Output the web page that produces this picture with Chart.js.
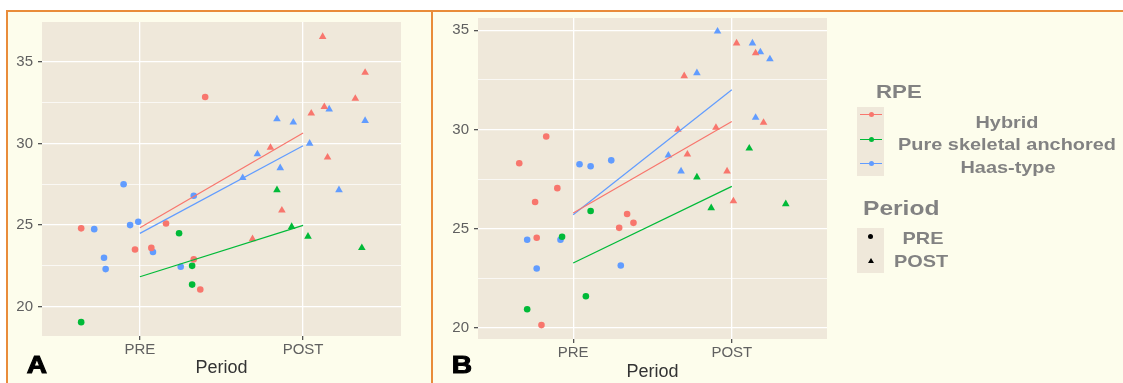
<!DOCTYPE html>
<html>
<head>
<meta charset="utf-8">
<script src="https://cdn.jsdelivr.net/npm/chart.js@4.4.1/dist/chart.umd.min.js"></script>
<style>
  body { margin: 0; background: #fff; }
  #fig { position: relative; width: 1123px; height: 383px; overflow: hidden; background: #fff;
         font-family: "Liberation Sans", Arial, sans-serif; }
  #frame { position: absolute; left: 6px; top: 10px; right: 0; bottom: 0; background: #fdfdec;
           border-left: 2px solid #e98c3a; border-top: 2px solid #e98c3a; }
  #sep { position: absolute; left: 431px; top: 10px; bottom: 0; width: 2px; background: #e98c3a; }
  canvas { position: absolute; top: 0; }
  .txt { position: absolute; white-space: nowrap; transform: translate(-50%, -50%) scaleX(1.17);
         font-weight: bold; color: #828282; }
  .left { transform: translate(0, -50%) scaleX(1.17); transform-origin: left center; }
  .key { position: absolute; left: 857px; width: 27px; background: #efe8da; }
  .kline { position: absolute; left: 860px; width: 22px; height: 1px; }
  .kdot { position: absolute; width: 5px; height: 5px; border-radius: 50%; }
  .tri { position: absolute; width: 0; height: 0; border-left: 3px solid transparent;
         border-right: 3px solid transparent; border-bottom: 5px solid #000; }
  .tag { position: absolute; font-weight: bold; font-size: 24px; color: #000;
         -webkit-text-stroke: 1px #000; transform: translate(-50%, -50%) scaleX(1.17); }
</style>
</head>
<body>
<div id="fig">
  <div id="frame"></div>
  <div id="sep"></div>
  <canvas id="chartA" width="431" height="383" style="left:0"></canvas>
  <canvas id="chartB" width="691" height="383" style="left:432px"></canvas>

  <div class="tag" style="left:37px; top:365px">A</div>
  <div class="tag" style="left:462px; top:365px">B</div>

  <!-- legend -->
  <div class="txt left" style="left:876px; top:92px; font-size:19px">RPE</div>
  <div class="key" style="top:107px; height:69px"></div>
  <div class="kline" style="top:114px; background:#F8766D"></div>
  <div class="kdot" style="left:869px; top:112px; background:#F8766D"></div>
  <div class="kline" style="top:139px; background:#00BA38"></div>
  <div class="kdot" style="left:869px; top:137px; background:#00BA38"></div>
  <div class="kline" style="top:163px; background:#619CFF"></div>
  <div class="kdot" style="left:869px; top:161px; background:#619CFF"></div>
  <div class="txt" style="left:1007px; top:123px; font-size:17px">Hybrid</div>
  <div class="txt" style="left:1007px; top:145px; font-size:17px">Pure skeletal anchored</div>
  <div class="txt" style="left:1008px; top:168px; font-size:17px">Haas-type</div>

  <div class="txt left" style="left:863px; top:208px; font-size:21px">Period</div>
  <div class="key" style="top:228px; height:45px"></div>
  <div class="kdot" style="left:868px; top:234px; background:#000"></div>
  <div class="tri" style="left:868px; top:258px"></div>
  <div class="txt" style="left:923px; top:239px; font-size:17px">PRE</div>
  <div class="txt" style="left:921px; top:262px; font-size:17px">POST</div>
</div>

<script>
const periods = ['PRE', 'POST'];
const rpeGroups = ['Hybrid', 'Pure skeletal anchored', 'Haas-type'];
const rpeColors = ['#F8766D', '#00BA38', '#619CFF'];
const yTicks = [20, 22.5, 25, 27.5, 30, 32.5, 35];

// panel A: [jittered period position, value]
const aHybridPre = [[0.64, 24.8], [0.97, 23.5], [1.07, 23.6], [1.16, 25.1], [1.33, 22.9], [1.37, 21.05], [1.40, 32.85]];
const aPurePre = [[0.64, 19.05], [1.24, 24.5], [1.32, 22.5], [1.32, 21.35]];
const aHaasPre = [[0.72, 24.75], [0.78, 23.0], [0.79, 22.3], [0.90, 27.5], [0.94, 25.0], [0.99, 25.2], [1.08, 23.35], [1.25, 22.45], [1.33, 26.8]];
const aHybridPost = [[2.12, 36.55], [2.38, 34.35], [2.32, 32.75], [2.13, 32.25], [2.05, 31.85], [1.80, 29.75], [2.15, 29.15], [1.87, 25.9], [1.69, 24.15]];
const aPurePost = [[1.84, 27.15], [1.93, 24.9], [2.03, 24.3], [2.36, 23.6]];
const aHaasPost = [[2.16, 32.1], [1.84, 31.5], [1.94, 31.3], [2.38, 31.4], [2.04, 30.0], [1.72, 29.35], [1.86, 28.5], [1.63, 27.9], [2.22, 27.15]];
const aFitPre = [24.83, 21.83, 24.49];
const aFitPost = [30.65, 24.98, 29.86];

// panel B
const bHybridPre = [[0.66, 28.3], [0.83, 29.65], [0.76, 26.35], [0.90, 27.05], [0.77, 24.55], [0.80, 20.15], [1.34, 25.75], [1.38, 25.3], [1.29, 25.05]];
const bPurePre = [[0.71, 20.95], [0.93, 24.6], [1.11, 25.9], [1.08, 21.6]];
const bHaasPre = [[0.71, 24.45], [0.77, 23.0], [0.92, 24.45], [1.04, 28.25], [1.11, 28.15], [1.24, 28.45], [1.30, 23.15]];
const bHybridPost = [[2.03, 34.35], [2.15, 33.85], [1.70, 32.7], [1.66, 30.0], [1.90, 30.1], [2.20, 30.35], [1.72, 28.75], [1.97, 27.9], [2.01, 26.4]];
const bPurePost = [[1.78, 27.6], [2.11, 29.05], [1.87, 26.05], [2.34, 26.25]];
const bHaasPost = [[1.91, 34.95], [2.13, 34.35], [2.18, 33.9], [2.24, 33.55], [1.78, 32.85], [2.15, 30.6], [1.60, 28.7], [1.68, 27.9]];
const bFitPre = [25.8, 23.28, 25.71];
const bFitPost = [30.41, 27.14, 32.01];

const panelBg = {
  id: 'panelBg',
  beforeDraw(chart) {
    const { ctx, chartArea: a } = chart;
    ctx.save();
    ctx.fillStyle = '#efe8da';
    ctx.fillRect(a.left, a.top, a.right - a.left, a.bottom - a.top);
    ctx.restore();
  }
};

function pointSet(pts, color, shape) {
  return {
    type: 'scatter',
    data: pts.map(p => ({ x: p[0], y: p[1] })),
    pointStyle: shape,
    pointRadius: shape === 'triangle' ? 4.4 : 3.3,
    backgroundColor: color,
    borderWidth: 0,
    order: 2
  };
}

function fitSet(pre, post, color) {
  return {
    type: 'line',
    data: [{ x: 1, y: pre }, { x: 2, y: post }],
    borderColor: color,
    borderWidth: 1.2,
    pointRadius: 0,
    order: 1
  };
}

function makePanel(id, pre, post, fitPre, fitPost, o) {
  const datasets = [];
  rpeGroups.forEach((g, i) => {
    datasets.push(fitSet(fitPre[i], fitPost[i], rpeColors[i]));
    datasets.push(pointSet(pre[i], rpeColors[i], 'circle'));
    datasets.push(pointSet(post[i], rpeColors[i], 'triangle'));
  });

  new Chart(document.getElementById(id), {
    type: 'scatter',
    data: { datasets },
    plugins: [panelBg],
    options: {
      responsive: false,
      animation: false,
      events: [],
      layout: { padding: { left: 0, right: o.padRight, top: o.padTop, bottom: 0 } },
      plugins: { legend: { display: false }, tooltip: { enabled: false } },
      scales: {
        x: {
          type: 'linear', min: 0.4, max: 2.6,
          afterBuildTicks: s => { s.ticks = [1, 2].map(v => ({ value: v })); },
          afterFit: s => { s.height = o.xHeight; },
          border: { display: false },
          grid: { color: '#ffffff', lineWidth: 1.3, tickColor: '#555', tickLength: 4 },
          ticks: {
            padding: 1, color: '#606060', maxRotation: 0,
            font: { family: 'Liberation Sans', size: 15 },
            callback: v => periods[v - 1]
          },
          title: {
            display: true, text: 'Period', color: '#333',
            font: { family: 'Liberation Sans', size: 18 },
            padding: { top: 0, bottom: o.titlePad }
          }
        },
        y: {
          min: o.yMin, max: o.yMax,
          afterBuildTicks: s => { s.ticks = yTicks.map(v => ({ value: v })); },
          afterFit: s => { s.width = o.yWidth; },
          border: { display: false },
          grid: {
            color: '#ffffff',
            lineWidth: c => (c.tick && c.tick.value % 5 === 0 ? 1.3 : 0.7),
            tickColor: c => (c.tick && c.tick.value % 5 === 0 ? '#555' : 'rgba(0,0,0,0)'),
            tickLength: 4
          },
          ticks: {
            padding: 5, color: '#606060',
            font: { family: 'Liberation Sans', size: 15 },
            callback: v => (v % 5 === 0 ? String(v) : '')
          }
        }
      }
    }
  });
}

makePanel('chartA',
  [aHybridPre, aPurePre, aHaasPre], [aHybridPost, aPurePost, aHaasPost], aFitPre, aFitPost,
  { yMin: 18.2, yMax: 37.45, yWidth: 42, xHeight: 47, padTop: 22, padRight: 30, titlePad: 4 });

makePanel('chartB',
  [bHybridPre, bPurePre, bHaasPre], [bHybridPost, bPurePost, bHaasPost], bFitPre, bFitPost,
  { yMin: 19.45, yMax: 35.62, yWidth: 46, xHeight: 44, padTop: 18, padRight: 296, titlePad: 0 });
</script>
</body>
</html>
